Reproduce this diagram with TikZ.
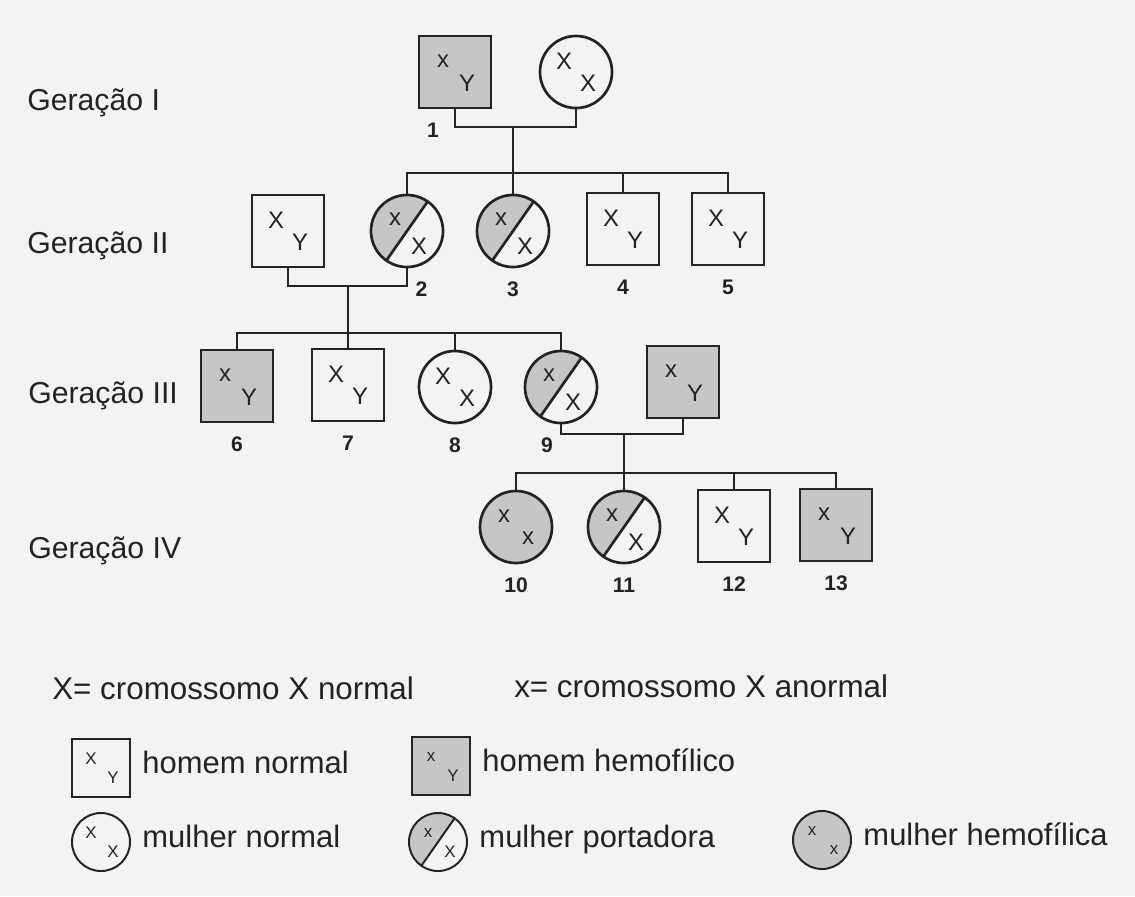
\documentclass[tikz,border=0pt]{standalone}
\usepackage{fontspec}
\setmainfont{Liberation Sans}
\usetikzlibrary{positioning}

\definecolor{ink}{HTML}{232323}
\definecolor{cinza}{HTML}{C6C6C6}
\definecolor{papel}{HTML}{F3F3F3}

\begin{document}
\begin{tikzpicture}[
        x=0.025cm, y=-0.025cm,
        ind/.style={draw=ink, line width=1.9pt, inner sep=0pt, minimum size=1.8cm},
        homem/.style={ind, rectangle},
        mulher/.style={ind, circle},
        leg/.style={minimum size=1.45cm, line width=1.4pt},
        afetado/.style={fill=cinza},
        portadora/.style={path picture={
            \fill[cinza] (path picture bounding box.center) ++(55:1.2cm)
                arc[start angle=55, end angle=235, radius=1.2cm] -- cycle;
            \draw[ink] (path picture bounding box.center) ++(55:1.2cm) -- ++(235:2.4cm);}},
        gene/.style={inner sep=0pt, text=ink, font=\fontsize{17}{19}\selectfont},
        lgene/.style={inner sep=0pt, text=ink, font=\fontsize{12}{14}\selectfont},
        cromo/.style 2 args={label={[gene,xshift=-0.3cm,yshift=0.275cm]center:#1},
                             label={[gene,xshift=0.3cm,yshift=-0.275cm]center:#2}},
        cromop/.style 2 args={label={[gene,xshift=-0.3cm,yshift=0.3cm]center:#1},
                              label={[gene,xshift=0.3cm,yshift=-0.375cm]center:#2}},
        lcromo/.style 2 args={label={[lgene,xshift=-0.25cm,yshift=0.225cm]center:#1},
                              label={[lgene,xshift=0.3cm,yshift=-0.25cm]center:#2}},
        num/.style={inner sep=0pt, text=ink, label distance=0.33cm,
            font=\fontsize{15}{17}\selectfont\bfseries},
        gen/.style={anchor=base west, inner sep=0pt, text=ink, font=\fontsize{21.5}{24}\selectfont},
        cab/.style={gen, font=\fontsize{22.3}{25}\selectfont},
        legtxt/.style={inner sep=0pt, text=ink, text height=0.72em, text depth=0pt,
            font=\fontsize{22}{25}\selectfont},
        link/.style={draw=ink, line width=1.9pt}
    ]
    \fill[papel] (0,0) rectangle (1135,896);

    \node[gen] (g1) at (27,110) {Geração I};
    \node[gen] (g2) at (27,253) {Geração II};
    \node[gen] (g3) at (28,403) {Geração III};
    \node[gen] (g4) at (28,558) {Geração IV};

    % geracao I
    \node[homem, afetado, cromo={x}{Y}, label={[num,xshift=-0.55cm]below:1}] (n1) at (455,72) {};
    \node[mulher, cromo={X}{X}] (w1) at (576,72) {};

    % geracao II
    \node[homem, cromo={X}{Y}] (h2) at (288,231) {};
    \node[mulher, portadora, cromop={x}{X}, label={[num,xshift=0.36cm]below:2}] (n2) at (407,231) {};
    \node[mulher, portadora, cromop={x}{X}, label={[num]below:3}] (n3) at (513,231) {};
    \node[homem, cromo={X}{Y}, label={[num]below:4}] (n4) at (623,229) {};
    \node[homem, cromo={X}{Y}, label={[num]below:5}] (n5) at (728,229) {};

    % geracao III
    \node[homem, afetado, cromo={x}{Y}, label={[num]below:6}] (n6) at (237,386) {};
    \node[homem, cromo={X}{Y}, label={[num]below:7}] (n7) at (348,385) {};
    \node[mulher, cromo={X}{X}, label={[num]below:8}] (n8) at (455,387) {};
    \node[mulher, portadora, cromop={x}{X}, label={[num,xshift=-0.35cm]below:9}] (n9) at (561,387) {};
    \node[homem, afetado, cromo={x}{Y}] (h9) at (683,382) {};

    % geracao IV
    \node[mulher, afetado, cromo={x}{x}, label={[num]below:10}] (n10) at (516,527) {};
    \node[mulher, portadora, cromop={x}{X}, label={[num]below:11}] (n11) at (624,527) {};
    \node[homem, cromo={X}{Y}, label={[num]below:12}] (n12) at (734,526) {};
    \node[homem, afetado, cromo={x}{Y}, label={[num]below:13}] (n13) at (836,525) {};

    % casais e filhos
    \coordinate (m1) at (513,127);
    \coordinate (s1) at (513,173);
    \draw[link] (n1) |- (m1) -| (w1);
    \draw[link] (m1) -- (s1);
    \draw[link] (n2) |- (s1) -| (n5);
    \draw[link] (n3) -- (s1);
    \draw[link] (n4) -- (n4 |- s1);

    \coordinate (m2) at (348,286);
    \coordinate (s2) at (348,333);
    \draw[link] (h2) |- (m2) -| (n2);
    \draw[link] (m2) -- (s2);
    \draw[link] (n6) |- (s2) -| (n9);
    \draw[link] (n7) -- (s2);
    \draw[link] (n8) -- (n8 |- s2);

    \coordinate (m3) at (624,434);
    \coordinate (s3) at (624,473);
    \draw[link] (n9) |- (m3) -| (h9);
    \draw[link] (m3) -- (s3);
    \draw[link] (n10) |- (s3) -| (n13);
    \draw[link] (n11) -- (s3);
    \draw[link] (n12) -- (n12 |- s3);

    % legenda
    \node[cab] (x1) at (52,699) {X= cromossomo X normal};
    \node[cab] (x2) at (514,697) {x= cromossomo X anormal};

    \node[homem, leg, lcromo={X}{Y}] (l1) at (101,768) {};
    \node[legtxt, right=0.28cm of l1] (t1) {homem normal};
    \node[homem, leg, afetado, lcromo={x}{Y}] (l2) at (441,766) {};
    \node[legtxt, right=0.28cm of l2] (t2) {homem hemofílico};
    \node[mulher, leg, lcromo={X}{X}] (l3) at (101,842) {};
    \node[legtxt, right=0.28cm of l3] (t3) {mulher normal};
    \node[mulher, leg, portadora, lcromo={x}{X}] (l4) at (438,842) {};
    \node[legtxt, right=0.28cm of l4] (t4) {mulher portadora};
    \node[mulher, leg, afetado, lcromo={x}{x}] (l5) at (822,840) {};
    \node[legtxt, right=0.28cm of l5] (t5) {mulher hemofílica};
\end{tikzpicture}
\end{document}
